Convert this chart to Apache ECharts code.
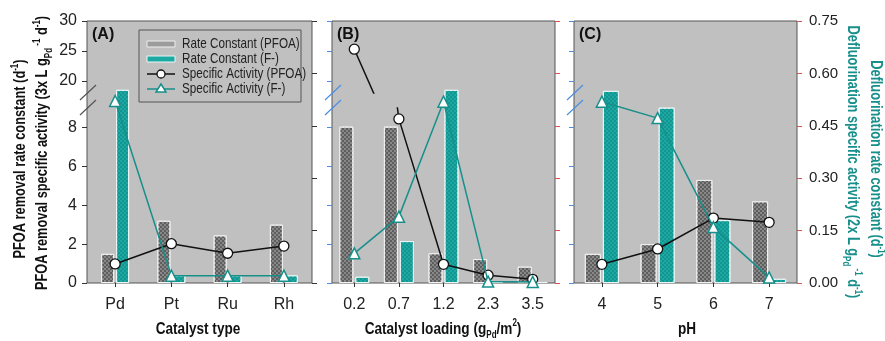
<!DOCTYPE html>
<html>
<head>
<meta charset="utf-8">
<script src="https://cdn.jsdelivr.net/npm/echarts@6/dist/echarts.min.js"></script>
<style>
  html, body { margin: 0; padding: 0; background: #fff; }
  #chart { width: 885px; height: 341px; }
</style>
</head>
<body>
<div id="chart"></div>
<script>
// categories
const catA = ["Pd", "Pt", "Ru", "Rh"];
const catB = ["0.2", "0.7", "1.2", "2.3", "3.5"];
const catC = ["4", "5", "6", "7"];

// PFOA removal rate constant (left axis)
const rateA = [1.5, 3.2, 2.45, 3.0];
const rateB = [8.04, 8.04, 1.53, 1.23, 0.84];
const rateC = [1.5, 2.0, 5.3, 4.2];

// PFOA specific activity (left axis)
const actA = [0.98, 2.02, 1.53, 1.9];
const actB = [25.3, 8.44, 0.96, 0.4, 0.19];
const actC = [0.96, 1.75, 3.34, 3.12];

// defluorination rate constant (right axis)
const fRateA = [0.553, 0.022, 0.022, 0.022];
const fRateB = [0.018, 0.12, 0.553, 0.003, 0.003];
const fRateC = [0.55, 0.502, 0.18, 0.012];

// defluorination specific activity (right axis)
const fActA = [0.521, 0.021, 0.021, 0.021];
const fActB = [0.085, 0.19, 0.519, 0.004, 0.003];
const fActC = [0.519, 0.472, 0.16, 0.016];

// tick labels
const leftLowTicks = [0, 2, 4, 6, 8];
const leftUpTicks = [20, 25, 30];

const legendNames = ["Rate Constant (PFOA)", "Rate Constant (F-)", "Specific Activity (PFOA)", "Specific Activity (F-)"];

const FONT = "'Liberation Sans', Arial, sans-serif";
const TEAL = "#1ca9a3";
const TEAL_LINE = "#178f8a";
const BLUE = "#4a8fe0";
const RED = "#e05252";
const NARROW = 0.8; // the source uses a condensed face

const panels = [
  { cats: catA, rate: rateA, act: actA, fRate: fRateA, fAct: fActA, left: 87, width: 225, bw: 13,
    lTick: "#333", rTick: "#333", rLabel: false },
  { cats: catB, rate: rateB, act: actB, fRate: fRateB, fAct: fActB, left: 332, width: 223, bw: 14,
    lTick: BLUE, rTick: RED, rLabel: false },
  { cats: catC, rate: rateC, act: actC, fRate: fRateC, fAct: fActC, left: 574, width: 223, bw: 16,
    lTick: BLUE, rTick: RED, rLabel: true },
];

const TOP = 21, BOTTOM_Y = 283;
const UP_H = 72;          // 18 .. 30
const LOW_TOP = 108;      // 0 .. 9

const grid = [], xAxis = [], yAxis = [], series = [];

const grayBar = {
  color: "#888",
  borderColor: "#f2f2f2",
  borderWidth: 1,
  decal: { symbol: "rect", symbolSize: 1, color: "rgba(60,60,60,0.55)",
           dashArrayX: [[2, 2], [0, 2, 2, 0]], dashArrayY: [2, 0] },
};
const tealBar = {
  color: TEAL,
  borderColor: "#eaf6f5",
  borderWidth: 1,
  decal: { symbol: "rect", symbolSize: 1, color: "rgba(10,120,115,0.4)",
           dashArrayX: [[2, 2], [0, 2, 2, 0]], dashArrayY: [2, 0] },
};
const blackLine = {
  type: "line", symbol: "circle", symbolSize: 10, showAllSymbol: true, z: 5,
  lineStyle: { color: "#111", width: 1.5 },
  itemStyle: { color: "#fff", borderColor: "#111", borderWidth: 1.3 },
};
const tealLine = {
  type: "line", symbol: "triangle", symbolSize: 11, showAllSymbol: true, z: 6,
  lineStyle: { color: TEAL_LINE, width: 1.5 },
  itemStyle: { color: "#fff", borderColor: TEAL_LINE, borderWidth: 1.5 },
};

panels.forEach((p, i) => {
  const full = grid.length;
  grid.push({ left: p.left, width: p.width, top: TOP, height: BOTTOM_Y - TOP, show: true,
    backgroundColor: "#c0c0c0", borderColor: "#555", borderWidth: 1, outerBoundsMode: "none" });
  grid.push({ left: p.left, width: p.width, top: TOP, height: UP_H, outerBoundsMode: "none" });
  grid.push({ left: p.left, width: p.width, top: LOW_TOP, height: BOTTOM_Y - LOW_TOP, outerBoundsMode: "none" });

  xAxis.push({
    gridIndex: full, type: "category", data: p.cats,
    axisLine: { show: false },
    axisTick: { show: true, alignWithLabel: true, length: 4, lineStyle: { color: "#333" } },
    axisLabel: { fontFamily: FONT, fontSize: 16, color: "#222", margin: 14 },
  });
  for (const g of [full + 1, full + 2]) {
    xAxis.push({ gridIndex: g, type: "category", data: p.cats, show: false });
  }

  // right axis (full height)
  yAxis.push({
    gridIndex: full, type: "value", position: "right", min: 0, max: 0.75, interval: 0.15,
    splitLine: { show: false }, axisLine: { show: false },
    axisTick: { show: true, length: 5, lineStyle: { color: p.rTick } },
    axisLabel: { show: p.rLabel, fontFamily: FONT, fontSize: 15, color: "#222", margin: 12,
      formatter: (v) => v.toFixed(2) },
  });
  // upper left axis
  yAxis.push({
    gridIndex: full + 1, type: "value", position: "left", min: 18, max: 30,
    splitLine: { show: false }, axisLine: { show: false },
    axisTick: { show: true, length: 5, customValues: leftUpTicks, lineStyle: { color: p.lTick } },
    axisLabel: { show: i === 0, customValues: leftUpTicks, fontFamily: FONT, fontSize: 16, color: "#222", margin: 10 },
  });
  // lower left axis
  yAxis.push({
    gridIndex: full + 2, type: "value", position: "left", min: 0, max: 9,
    splitLine: { show: false }, axisLine: { show: false },
    axisTick: { show: true, length: 5, customValues: leftLowTicks, lineStyle: { color: p.lTick } },
    axisLabel: { show: i === 0, customValues: leftLowTicks, fontFamily: FONT, fontSize: 16, color: "#222", margin: 10 },
  });

  const gap = (2 / p.bw * 100).toFixed(0) + "%";
  const empty = p.cats.map(() => "-");

  // right-axis series
  series.push({ type: "bar", xAxisIndex: full, yAxisIndex: full, data: empty, barWidth: p.bw, barGap: gap, silent: true });
  series.push({ type: "bar", name: legendNames[1], xAxisIndex: full, yAxisIndex: full,
    data: p.fRate, barWidth: p.bw, barGap: gap, itemStyle: tealBar, z: 3 });
  series.push(Object.assign({}, tealLine, { name: legendNames[3], xAxisIndex: full, yAxisIndex: full, data: p.fAct }));

  // left-axis series, drawn in both halves of the broken axis
  for (const g of [full + 1, full + 2]) {
    series.push({ type: "bar", name: legendNames[0], xAxisIndex: g, yAxisIndex: g,
      data: p.rate, barWidth: p.bw, barGap: gap, itemStyle: grayBar, z: 3 });
    series.push({ type: "bar", xAxisIndex: g, yAxisIndex: g, data: empty, barWidth: p.bw, barGap: gap, silent: true });
    series.push(Object.assign({}, blackLine, { name: legendNames[2], xAxisIndex: g, yAxisIndex: g, data: p.act }));
  }
});

// decorations: panel letters, axis break marks, titles, legend box
const graphic = [];
["(A)", "(B)", "(C)"].forEach((t, i) => {
  graphic.push({ type: "text", left: panels[i].left + 5, top: 27,
    style: { text: t, fontFamily: FONT, fontSize: 16, fontWeight: "bold", fill: "#111" } });
});
panels.forEach((p, i) => {
  const c = i === 0 ? "#555" : BLUE;
  const x0 = p.left - 7;
  for (const y0 of [100, 115]) {
    graphic.push({ type: "line", shape: { x1: x0, y1: y0, x2: x0 + 16, y2: y0 - 15 },
      style: { stroke: c, lineWidth: 1.2 }, z: 10 });
  }
});
const rich = (color, size) => ({
  n: { fontFamily: FONT, fontSize: size, fontWeight: "bold", fill: color, lineHeight: 22 },
  sup: { fontFamily: FONT, fontSize: 10, fontWeight: "bold", fill: color, verticalAlign: "top", lineHeight: 22 },
  sub: { fontFamily: FONT, fontSize: 10, fontWeight: "bold", fill: color, verticalAlign: "bottom", lineHeight: 22 },
});
const title = (text, x, y, rotation, color, size) => ({
  type: "text", x, y, rotation, scaleX: NARROW, z: 20,
  style: { text, rich: rich(color, size), align: "center", verticalAlign: "middle" },
});
graphic.push(title("{n|PFOA removal rate constant (d}{sup|-1}{n|)}", 21, 159, Math.PI / 2, "#111", 16));
graphic.push(title("{n|PFOA removal specific activity (3x L g}{sub|Pd}{sup| -1}{n| d}{sup|-1}{n|)}", 43, 153, Math.PI / 2, "#111", 16));
graphic.push(title("{n|Defluorination rate constant (d}{sup|-1}{n|)}", 875, 159, -Math.PI / 2, TEAL_LINE, 16));
graphic.push(title("{n|Defluorination specific activity (2x L g}{sub|Pd}{sup| -1}{n| d}{sup|-1}{n|)}", 852, 162, -Math.PI / 2, TEAL_LINE, 16));
graphic.push(title("{n|Catalyst type}", 198, 329, 0, "#111", 17));
graphic.push(title("{n|Catalyst loading (g}{sub|Pd}{n|/m}{sup|2}{n|)}", 443, 329, 0, "#111", 17));
graphic.push(title("{n|pH}", 687, 329, 0, "#111", 17));

// legend box (condensed text like the source)
const LX = 139, LY = 30;
const leg = [
  { type: "rect", shape: { x: LX, y: LY, width: 162, height: 72 }, style: { fill: "#c0c0c0", stroke: "#555", lineWidth: 1 } },
  { type: "rect", shape: { x: 147, y: 41, width: 28, height: 6 }, style: { fill: "#9c9c9c", stroke: "#eee", lineWidth: 1 } },
  { type: "rect", shape: { x: 147, y: 56, width: 28, height: 6 }, style: { fill: TEAL, stroke: "#eaf6f5", lineWidth: 1 } },
  { type: "line", shape: { x1: 147, y1: 74, x2: 175, y2: 74 }, style: { stroke: "#111", lineWidth: 1.5 } },
  { type: "circle", shape: { cx: 161, cy: 74, r: 4 }, style: { fill: "#fff", stroke: "#111", lineWidth: 1.3 } },
  { type: "line", shape: { x1: 147, y1: 89, x2: 175, y2: 89 }, style: { stroke: TEAL_LINE, lineWidth: 1.5 } },
  { type: "polygon", shape: { points: [[161, 84], [156, 92], [166, 92]] }, style: { fill: "#fff", stroke: TEAL_LINE, lineWidth: 1.5 } },
];
legendNames.forEach((n, k) => {
  leg.push({ type: "text", x: 182, y: 44 + 15 * k, scaleX: 0.78,
    style: { text: n, fontFamily: FONT, fontSize: 15, fill: "#222", align: "left", verticalAlign: "middle" } });
});
graphic.push({ type: "group", z: 30, children: leg });

const option = {
  animation: false,
  grid, xAxis, yAxis, series, graphic,
};

const chart = echarts.init(document.getElementById("chart"), null, { renderer: "canvas" });
chart.setOption(option);
</script>
</body>
</html>
